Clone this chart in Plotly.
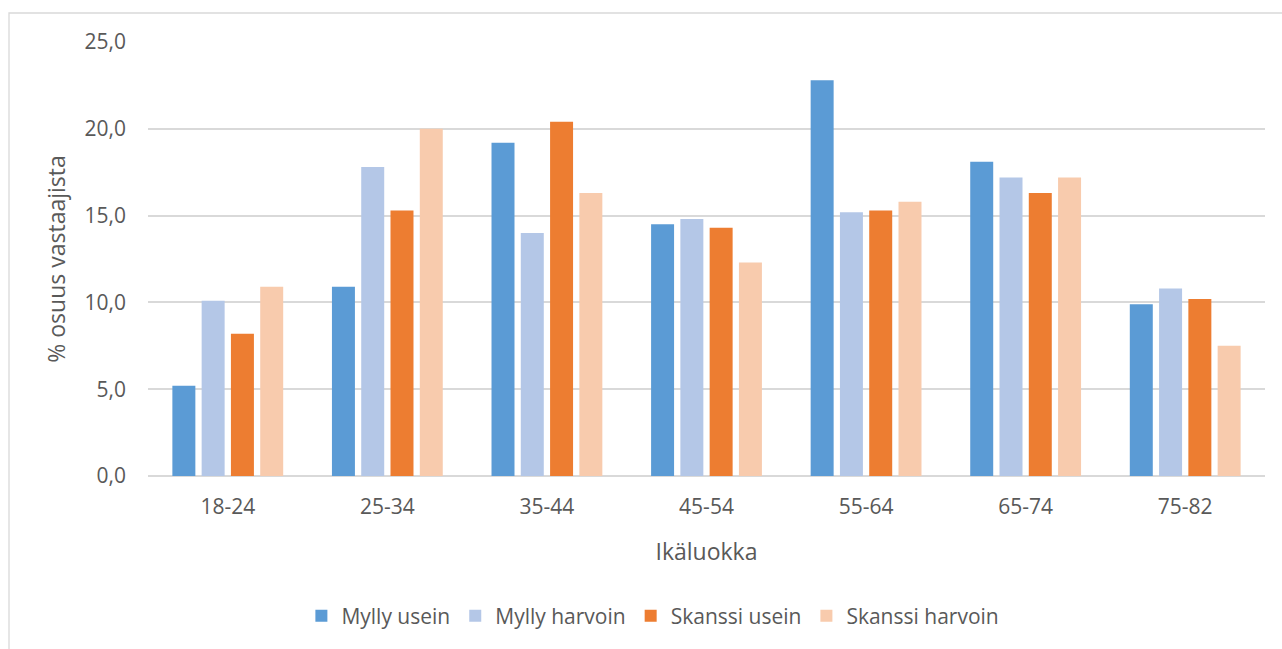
import plotly.graph_objects as go

# Age groups and share of respondents (%) per visitor group
age_groups = ["18-24", "25-34", "35-44", "45-54", "55-64", "65-74", "75-82"]
mylly_usein = [5.2, 10.9, 19.2, 14.5, 22.8, 18.1, 9.9]
mylly_harvoin = [10.1, 17.8, 14.0, 14.8, 15.2, 17.2, 10.8]
skanssi_usein = [8.2, 15.3, 20.4, 14.3, 15.3, 16.3, 10.2]
skanssi_harvoin = [10.9, 20.0, 16.3, 12.3, 15.8, 17.2, 7.5]

series = [
    ("Mylly usein", mylly_usein, "#5B9BD5"),
    ("Mylly harvoin", mylly_harvoin, "#B4C7E7"),
    ("Skanssi usein", skanssi_usein, "#ED7D31"),
    ("Skanssi harvoin", skanssi_harvoin, "#F8CBAD"),
]

FONT = "Open Sans"
TEXT_COLOR = "#595959"
GRID = "#D9D9D9"

fig = go.Figure()
for name, values, color in series:
    fig.add_trace(go.Bar(
        x=age_groups, y=values, name=name,
        marker=dict(color=color, line=dict(width=0)),
    ))

W, H = 1282, 649
L, R, T, B = 148, 17, 42, 173
pw, ph = W - L - R, H - T - B

def px_x(x):
    return (x - L) / pw

def px_y(y):
    return (H - B - y) / ph

fig.update_layout(
    width=W, height=H,
    margin=dict(l=L, r=R, t=T, b=B, autoexpand=False),
    paper_bgcolor="white", plot_bgcolor="white",
    separators=", ",
    barmode="group", bargap=0.266, bargroupgap=0.215,
    font=dict(family=FONT, size=21, color=TEXT_COLOR),
    showlegend=True,
    legend=dict(
        orientation="h", x=0.452, xanchor="center", y=px_y(616), yanchor="middle",
        font=dict(family=FONT, size=21, color=TEXT_COLOR),
        itemwidth=30, traceorder="normal",
    ),
    xaxis=dict(
        showgrid=False, showline=False, zeroline=False, ticks="",
        tickfont=dict(family=FONT, size=21, color=TEXT_COLOR),
        ticklabelstandoff=16,
        title=dict(text="Ikäluokka", font=dict(family=FONT, size=23, color=TEXT_COLOR), standoff=24),
        automargin=False,
    ),
    yaxis=dict(
        range=[0, 25], dtick=5, tick0=0, tickformat=".1f",
        showgrid=True, gridcolor=GRID, gridwidth=1.6,
        zeroline=True, zerolinecolor=GRID, zerolinewidth=1.6,
        showline=False, ticks="",
        tickfont=dict(family=FONT, size=21, color=TEXT_COLOR),
        ticklabelstandoff=21,
        title=dict(text="% osuus vastaajista", font=dict(family=FONT, size=23, color=TEXT_COLOR), standoff=12),
        automargin=False,
    ),
    shapes=[dict(
        type="rect", xref="paper", yref="paper", layer="below",
        x0=px_x(9), x1=px_x(1290), y0=px_y(660), y1=px_y(13),
        line=dict(color=GRID, width=1.3), fillcolor="rgba(0,0,0,0)",
    )],
)

fig.write_html("out.html")
